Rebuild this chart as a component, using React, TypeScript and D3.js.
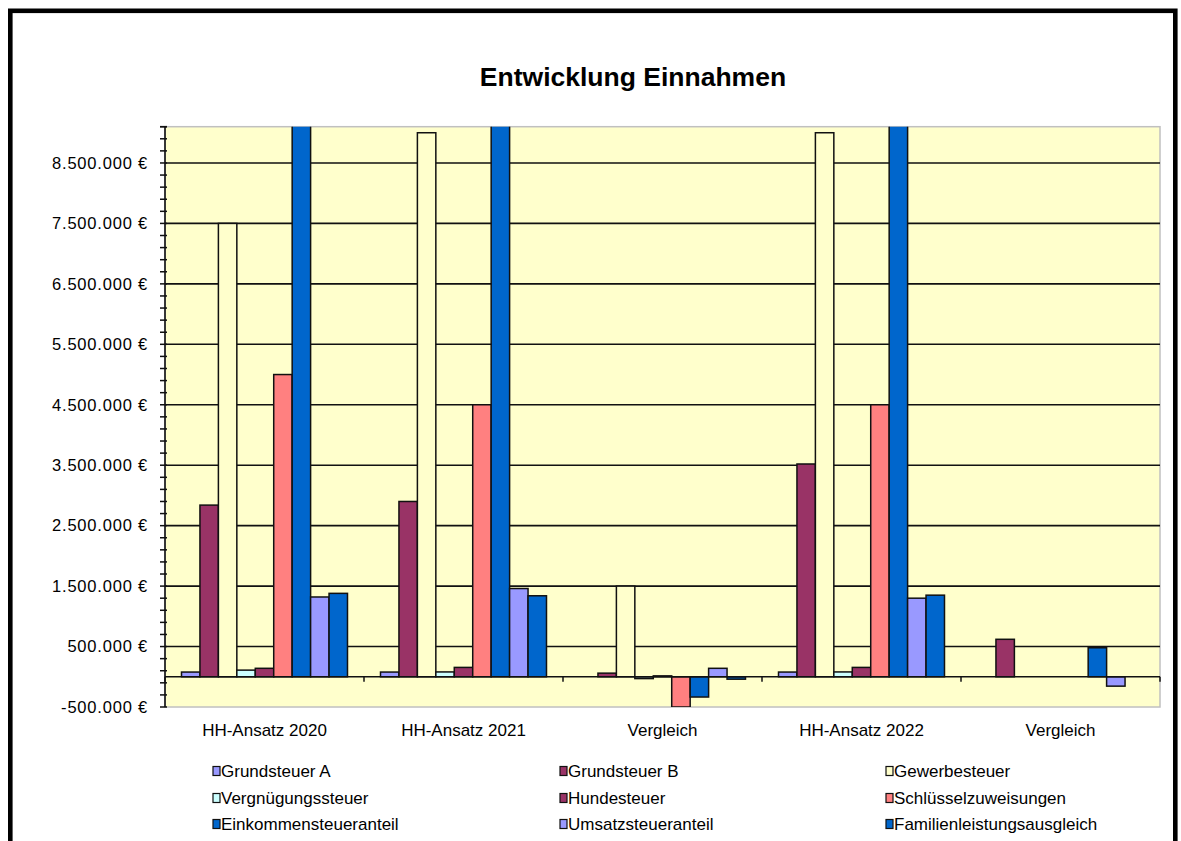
import React from "react";
import * as d3 from "d3";

const categories = ["HH-Ansatz 2020", "HH-Ansatz 2021", "Vergleich", "HH-Ansatz 2022", "Vergleich"];
const seriesNames = [
  "Grundsteuer A", "Grundsteuer B", "Gewerbesteuer",
  "Vergnügungssteuer", "Hundesteuer", "Schlüsselzuweisungen",
  "Einkommensteueranteil", "Umsatzsteueranteil", "Familienleistungsausgleich",
];
const grundsteuerA = [78000, 78000, 0, 78000, 0];
const grundsteuerB = [2840000, 2900000, 60000, 3520000, 620000];
const gewerbesteuer = [7500000, 9000000, 1500000, 9000000, 0];
const vergnuegungssteuer = [110000, 80000, -30000, 80000, 0];
const hundesteuer = [140000, 155000, 15000, 155000, 0];
const schluesselzuweisungen = [5000000, 4500000, -500000, 4500000, 0];
const einkommensteueranteil = [10600000, 10265000, -335000, 10745000, 480000];
const umsatzsteueranteil = [1320000, 1460000, 140000, 1300000, -155000];
const familienleistungsausgleich = [1380000, 1340000, -40000, 1350000, 0];
const seriesColors = ["#9999FF", "#993366", "#FFFFCC", "#CCFFFF", "#993366", "#FF8080", "#0066CC", "#9999FF", "#0066CC"];
const majorTicks = [-500000, 500000, 1500000, 2500000, 3500000, 4500000, 5500000, 6500000, 7500000, 8500000];

const seriesValues = [
  grundsteuerA, grundsteuerB, gewerbesteuer, vergnuegungssteuer, hundesteuer,
  schluesselzuweisungen, einkommensteueranteil, umsatzsteueranteil, familienleistungsausgleich,
];

const FONT = "Arial, 'Liberation Sans', sans-serif";

export default function App() {
  const left = 165, right = 1160, top = 126.7, bottom = 707;
  const y = d3.scaleLinear().domain([-500000, 9100000]).range([bottom, top]);
  const x = d3.scaleBand<number>().domain(categories.map((_, i) => i)).range([left, right]).padding(0);
  const bw = x.bandwidth();
  const gap = (bw * 1.79) / (9 + 1.79);
  const xi = d3.scaleBand<number>().domain(seriesNames.map((_, i) => i)).range([gap / 2, bw - gap / 2]).padding(0);
  const locale = d3.formatLocale({ decimal: ",", thousands: ".", grouping: [3], currency: ["", " €"], minus: "-" });
  const fmt = locale.format("$,.0f");
  const minorTicks = d3.range(-500000, 9100001, 200000);
  const zero = y(0);

  const legendCols = [213, 560, 886];
  const legendRows = [771, 798, 824];

  return (
    <svg width={1181} height={841} style={{ position: "absolute", left: 0, top: 0, background: "#fff" }}>
      <defs>
        <clipPath id="plotclip">
          <rect x={left} y={top} width={right - left} height={bottom - top} />
        </clipPath>
      </defs>
      <rect x={10.3} y={10.8} width={1165} height={860} fill="#fff" stroke="#000" strokeWidth={4.6} />
      <text x={633} y={86} textAnchor="middle" fontFamily={FONT} fontWeight="bold" fontSize={26.5}>Entwicklung Einnahmen</text>

      <rect x={left} y={top} width={right - left} height={bottom - top} fill="#FFFFCC" stroke="#C0C0C0" strokeWidth={1.5} />
      {majorTicks.filter((t) => t > -500000).map((t) => (
        <line key={"g" + t} x1={left} x2={right} y1={y(t)} y2={y(t)} stroke="#111" strokeWidth={1.6} />
      ))}

      <g clipPath="url(#plotclip)">
        {seriesValues.map((vals, s) =>
          vals.map((v, c) => {
            if (v === 0) return null;
            const x0 = (x(c) as number) + (xi(s) as number);
            const y0 = Math.min(y(v), zero);
            const h = Math.abs(y(v) - zero);
            return (
              <rect key={s + "-" + c} x={x0} y={y0} width={xi.bandwidth()} height={h}
                fill={seriesColors[s]} stroke="#111" strokeWidth={1.5} />
            );
          })
        )}
      </g>

      <line x1={left} x2={right} y1={zero} y2={zero} stroke="#111" strokeWidth={1.6} />
      {categories.map((_, i) => (
        <line key={"ct" + i} x1={x(i) as number} x2={x(i) as number} y1={zero} y2={zero + 5} stroke="#111" strokeWidth={1.5} />
      ))}
      <line x1={right} x2={right} y1={zero} y2={zero + 5} stroke="#111" strokeWidth={1.5} />

      <line x1={left} x2={left} y1={top} y2={bottom} stroke="#111" strokeWidth={1.6} />
      {minorTicks.map((t) => (
        <line key={"m" + t} x1={left - 5} x2={left + 2} y1={y(t)} y2={y(t)} stroke="#111" strokeWidth={1.5} />
      ))}
      <line x1={left - 5} x2={left + 2} y1={top} y2={top} stroke="#111" strokeWidth={1.5} />
      {majorTicks.map((t) => (
        <text key={"l" + t} x={148} y={y(t)} dy="0.35em" textAnchor="end" fontFamily={FONT} fontSize={16.5} letterSpacing={0.8} fill="#000">{fmt(t)}</text>
      ))}

      {categories.map((c, i) => (
        <text key={"c" + i} x={(x(i) as number) + bw / 2} y={730} dy="0.35em" textAnchor="middle" fontFamily={FONT} fontSize={17}>{c}</text>
      ))}

      {seriesNames.map((n, i) => {
        const cx = legendCols[i % 3];
        const cy = legendRows[Math.floor(i / 3)];
        return (
          <g key={"lg" + i}>
            <rect x={cx} y={cy - 4.5} width={7} height={9} fill={seriesColors[i]} stroke="#111" strokeWidth={1.2} />
            <text x={cx + 8} y={cy} dy="0.35em" fontFamily={FONT} fontSize={17}>{n}</text>
          </g>
        );
      })}
    </svg>
  );
}
